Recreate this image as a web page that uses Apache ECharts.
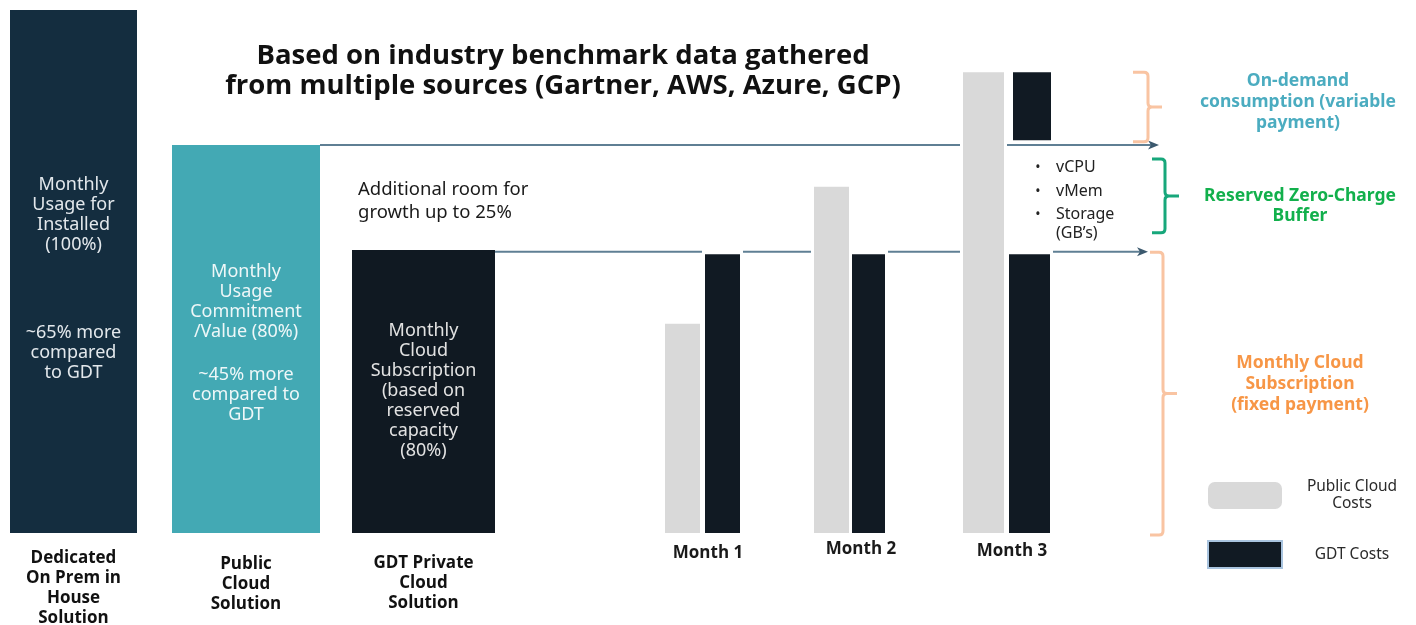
<!DOCTYPE html>
<html><head><meta charset="utf-8">
<script src="https://cdn.jsdelivr.net/npm/echarts@6/dist/echarts.min.js"></script>
<style>html,body{margin:0;padding:0;background:#fff}#c{width:1416px;height:625px}</style>
</head><body><div id="c"></div><script>
// ---------------- DATA ----------------
const solutionNames = ['Dedicated\nOn Prem in\nHouse\nSolution', 'Public\nCloud\nSolution', 'GDT Private\nCloud\nSolution'];
const solutionValues = [100, 74.2, 54.1];
const solutionNotes = [
  ['Monthly\nUsage for\nInstalled\n(100%)', '~65% more\ncompared\nto GDT'],
  ['Monthly\nUsage\nCommitment\n/Value (80%)', '~45% more\ncompared to\nGDT'],
  ['Monthly\nCloud\nSubscription\n(based on\nreserved\ncapacity\n(80%)']
];
const months = ['Month 1', 'Month 2', 'Month 3'];
const publicCloudCosts = [40, 66.2, 88.1];
const gdtFixedCosts = [53.3, 53.3, 53.3];
const gdtOnDemandFrom = [null, null, 75.1];
const gdtOnDemandTo = [null, null, 88.1];
const levelValues = [74.2, 53.8];           // commitment level, subscription level
const braceRanges = [[74.8, 88.1], [57.4, 71.5], [-0.4, 53.7]];
const braceLabels = ['On-demand\nconsumption (variable\npayment)', 'Reserved Zero-Charge\nBuffer', 'Monthly Cloud\nSubscription\n(fixed payment)'];
const bufferItems = ['vCPU', 'vMem', 'Storage\n(GB\u2019s)'];
const titleText = 'Based on industry benchmark data gathered\nfrom multiple sources (Gartner, AWS, Azure, GCP)';
const growthNote = 'Additional room for\ngrowth up to 25%';
const legendNames = ['Public Cloud Costs', 'GDT Costs'];

// ---------------- LAYOUT / STYLE ----------------
const layout = {
  solutionX: [[10, 137], [172, 320], [352, 495]],
  solutionColors: ['#142D3F', '#43A9B4', '#101922'],
  noteColors: ['#E3E8EC', '#EEF7F8', '#E2E2E2'],
  noteTop: [[165, 313], [117, 220], [71]],
  nameTop: [15, 21, 20],
  publicX: [[665, 700], [814, 849], [963, 1004]],
  gdtX: [[705, 740], [852, 885], [1009, 1050]],
  monthLabelX: [708, 861, 1012],
  monthLabelDy: [20, 16, 18],
  levelX: [[320, 1159], [495, 1148]],
  braceX: [[1133, 1148, 1162], [1152, 1165, 1179], [1150, 1163, 1177]],
  braceColors: ['#F9C4A2', '#17A77B', '#F9C4A2'],
  braceLabelX: [1298, 1300, 1300],
  braceLabelDy: [-5, 10, -10],
  braceLabelColors: ['#4BACC0', '#12B04C', '#F79646'],
  bulletY: [168, 192, 215],
  halo: 3
};
const FONT = '"Noto Sans", "DejaVu Sans", sans-serif';
const BOLD = '"Open Sans", "Noto Sans", sans-serif';

function rect(x0, y0, x1, y1, fill) {
  return {type: 'rect', shape: {x: x0, y: y0, width: x1 - x0, height: y1 - y0}, style: {fill: fill}};
}
function halo(x0, y0, x1, y1) {
  const h = layout.halo;
  return rect(x0 - h, y0 - 5, x1 + h, y1, '#ffffff');
}

const chart = echarts.init(document.getElementById('c'), null, {renderer: 'canvas'});
chart.setOption({
  backgroundColor: '#ffffff',
  animation: false,
  title: {
    text: titleText, left: 558, top: 36, textAlign: 'center',
    textStyle: {fontFamily: BOLD, fontWeight: 'bold', fontSize: 27.5, lineHeight: 30, color: '#111111'}
  },
  legend: {
    orient: 'vertical', left: 1202, top: 474, itemWidth: 74, itemHeight: 27, itemGap: 28,
    selectedMode: false,
    data: [
      {name: legendNames[0], icon: 'roundRect', itemStyle: {color: '#D9D9D9'}},
      {name: legendNames[1], icon: 'rect', itemStyle: {color: '#111A23', borderColor: '#A9C4DF', borderWidth: 2}}
    ],
    formatter: function (n) {
      return n === legendNames[0] ? '{c|Public Cloud}\n{c|Costs}' : '{c|GDT Costs}';
    },
    textStyle: {rich: {c: {width: 130, align: 'center', fontFamily: FONT, fontSize: 15.5, lineHeight: 17, color: '#2a2a2a'}}}
  },
  grid: {left: 0, right: 0, top: 10, bottom: 92},
  xAxis: {type: 'value', min: 0, max: 1416, show: false},
  yAxis: {type: 'value', min: 0, max: 100, show: false},
  graphic: [
    {type: 'text', left: 358, top: 178, style: {text: growthNote, font: '18.5px ' + FONT, lineHeight: 23, fill: '#1a1a1a'}}
  ],
  series: [
    { // reference levels with arrows
      type: 'custom', name: 'levels', z: 1, silent: true,
      data: levelValues.map((v, i) => [i, v]),
      renderItem: function (params, api) {
        const i = params.dataIndex, v = api.value(1);
        const a = api.coord([layout.levelX[i][0], v]);
        const b = api.coord([layout.levelX[i][1], v]);
        return {type: 'group', children: [
          {type: 'line', shape: {x1: a[0], y1: a[1], x2: b[0] - 6, y2: b[1]}, style: {stroke: '#5F7F94', lineWidth: 2}},
          {type: 'polygon', shape: {points: [[b[0], b[1]], [b[0] - 11, b[1] - 4.5], [b[0] - 8, b[1]], [b[0] - 11, b[1] + 4.5]]}, style: {fill: '#3B596E'}}
        ]};
      }
    },
    { // solution bars
      type: 'custom', name: 'solutions', z: 2, silent: true,
      data: solutionValues.map((v, i) => [i, v]),
      renderItem: function (params, api) {
        const i = params.dataIndex;
        const top = api.coord([layout.solutionX[i][0], api.value(1)]);
        const bot = api.coord([layout.solutionX[i][1], 0]);
        const cx = (top[0] + bot[0]) / 2;
        const ch = [rect(top[0], top[1], bot[0], bot[1], layout.solutionColors[i])];
        solutionNotes[i].forEach((t, k) => {
          ch.push({type: 'text', style: {text: t, x: cx, y: top[1] + layout.noteTop[i][k], align: 'center', verticalAlign: 'top',
            font: '18px ' + FONT, lineHeight: 20, fill: layout.noteColors[i]}});
        });
        ch.push({type: 'text', style: {text: solutionNames[i], x: cx, y: bot[1] + layout.nameTop[i], align: 'center', verticalAlign: 'top',
          font: 'bold 17px ' + BOLD, lineHeight: 20, fill: '#111111'}});
        return {type: 'group', children: ch};
      }
    },
    { // public cloud monthly costs
      type: 'custom', name: legendNames[0], z: 3, silent: true,
      itemStyle: {color: '#D9D9D9'},
      data: publicCloudCosts.map((v, i) => [i, v]),
      renderItem: function (params, api) {
        const i = params.dataIndex;
        const top = api.coord([layout.publicX[i][0], api.value(1)]);
        const bot = api.coord([layout.publicX[i][1], 0]);
        return {type: 'group', children: [halo(top[0], top[1], bot[0], bot[1]), rect(top[0], top[1], bot[0], bot[1], '#D9D9D9')]};
      }
    },
    { // GDT monthly costs
      type: 'custom', name: legendNames[1], z: 3, silent: true,
      itemStyle: {color: '#111A23'},
      data: gdtFixedCosts.map((v, i) => [i, v, gdtOnDemandFrom[i], gdtOnDemandTo[i]]),
      renderItem: function (params, api) {
        const i = params.dataIndex;
        const top = api.coord([layout.gdtX[i][0], api.value(1)]);
        const bot = api.coord([layout.gdtX[i][1], 0]);
        const ch = [halo(top[0], top[1], bot[0], bot[1]), rect(top[0], top[1], bot[0], bot[1], '#111A23')];
        if (gdtOnDemandFrom[i] != null) {
          const a = api.coord([layout.gdtX[i][0] + 4, gdtOnDemandTo[i]]);
          const b = api.coord([layout.gdtX[i][1] + 1, gdtOnDemandFrom[i]]);
          ch.push(halo(a[0], a[1], b[0], b[1]), rect(a[0], a[1], b[0], b[1], '#111A23'));
        }
        ch.push({type: 'text', style: {text: months[i], x: layout.monthLabelX[i], y: bot[1] + layout.monthLabelDy[i], align: 'center', verticalAlign: 'middle',
          font: 'bold 17px ' + BOLD, fill: '#1a1a1a'}});
        return {type: 'group', children: ch};
      }
    },
    { // braces and their labels
      type: 'custom', name: 'braces', z: 4, silent: true,
      data: braceRanges.map((r, i) => [i, r[0], r[1]]),
      renderItem: function (params, api) {
        const i = params.dataIndex;
        const [xL, xV, xT] = layout.braceX[i];
        const yTop = api.coord([xV, api.value(2)])[1];
        const yBot = api.coord([xV, api.value(1)])[1];
        const yM = (yTop + yBot) / 2, r = 4;
        const d = 'M' + xL + ' ' + yTop + ' L' + (xV - r) + ' ' + yTop + ' Q' + xV + ' ' + yTop + ' ' + xV + ' ' + (yTop + r) +
          ' L' + xV + ' ' + (yM - r) + ' Q' + xV + ' ' + yM + ' ' + (xV + r) + ' ' + yM + ' L' + xT + ' ' + yM +
          ' M' + (xV + r) + ' ' + yM + ' Q' + xV + ' ' + yM + ' ' + xV + ' ' + (yM + r) +
          ' L' + xV + ' ' + (yBot - r) + ' Q' + xV + ' ' + yBot + ' ' + (xV - r) + ' ' + yBot + ' L' + xL + ' ' + yBot;
        return {type: 'group', children: [
          {type: 'path', shape: {pathData: d}, style: {stroke: layout.braceColors[i], lineWidth: 3, fill: null}},
          {type: 'text', style: {text: braceLabels[i], x: layout.braceLabelX[i], y: yM + layout.braceLabelDy[i], align: 'center', verticalAlign: 'middle',
            font: 'bold 17.5px ' + FONT, lineHeight: i === 1 ? 20 : 21, fill: layout.braceLabelColors[i]}}
        ]};
      }
    },
    { // buffer item bullet list
      type: 'custom', name: 'bufferItems', z: 4, silent: true,
      data: bufferItems.map((t, i) => [i, 0]),
      renderItem: function (params, api) {
        const i = params.dataIndex;
        const y = layout.bulletY[i];
        return {type: 'group', children: [
          {type: 'text', style: {text: '\u2022', x: 1038, y: y, align: 'center', verticalAlign: 'middle', font: '14px ' + FONT, fill: '#222'}},
          {type: 'text', style: {text: bufferItems[i], x: 1056, y: y - 10, align: 'left', verticalAlign: 'top', font: '16px ' + FONT, lineHeight: 19, fill: '#222'}}
        ]};
      }
    }
  ]
});
</script></body></html>
